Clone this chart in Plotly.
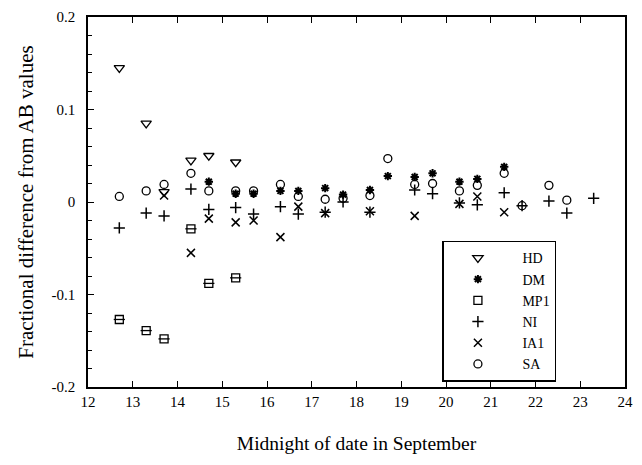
import plotly.graph_objects as go

# Data (day of September, fractional difference from AB values)
hd_days = [12.7, 13.3, 13.7, 14.3, 14.7, 15.3]
hd_vals = [0.145, 0.085, 0.011, 0.045, 0.050, 0.043]

dm_days = [14.7, 15.3, 15.7, 16.3, 16.7, 17.3, 17.7, 18.3, 18.7, 19.3, 19.7, 20.3, 20.7, 21.3]
dm_vals = [0.022, 0.009, 0.009, 0.012, 0.012, 0.015, 0.008, 0.013, 0.028, 0.027, 0.031, 0.022, 0.025, 0.038]

mp1_days = [12.7, 13.3, 13.7, 14.3, 14.7, 15.3]
mp1_vals = [-0.127, -0.139, -0.148, -0.029, -0.088, -0.082]

ni_days = [12.7, 13.3, 13.7, 14.3, 14.7, 15.3, 15.7, 16.3, 16.7, 17.3, 17.7, 18.3,
           19.3, 19.7, 20.3, 20.7, 21.3, 21.7, 22.3, 22.7, 23.3]
ni_vals = [-0.028, -0.012, -0.015, 0.014, -0.008, -0.006, -0.013, -0.005, -0.013, -0.011, 0.0, -0.011,
           0.013, 0.009, -0.001, -0.003, 0.010, -0.004, 0.001, -0.012, 0.004]

ia1_days = [13.7, 14.3, 14.7, 15.3, 15.7, 16.3, 16.7, 17.3, 18.3, 19.3, 20.3, 20.7, 21.3]
ia1_vals = [0.007, -0.055, -0.018, -0.022, -0.020, -0.038, -0.005, -0.012, -0.010, -0.015, -0.002, 0.006, -0.011]

sa_days = [12.7, 13.3, 13.7, 14.3, 14.7, 15.3, 15.7, 16.3, 16.7, 17.3, 17.7, 18.3, 18.7,
           19.3, 19.7, 20.3, 20.7, 21.3, 21.7, 22.3, 22.7]
sa_vals = [0.006, 0.012, 0.019, 0.031, 0.012, 0.012, 0.012, 0.019, 0.006, 0.003, 0.004, 0.007, 0.047,
           0.019, 0.020, 0.012, 0.018, 0.031, -0.004, 0.018, 0.002]

x_ticks = list(range(12, 25))
y_ticks = [-0.2, -0.1, 0, 0.1, 0.2]
y_tick_text = ["-0.2", "-0.1", "0", "0.1", "0.2"]

FONT = "Liberation Serif, Times New Roman, serif"
BLACK = "black"
PAD = "\u00a0" * 3  # gap between legend symbol and label

fig = go.Figure()

def add(name, xs, ys, symbol, size, lw=1.3, showlegend=True, group=None):
    fig.add_trace(go.Scatter(
        x=xs, y=ys, mode="markers", name=PAD + name,
        legendgroup=group or name, showlegend=showlegend,
        marker=dict(symbol=symbol, size=size, color=BLACK,
                    line=dict(color=BLACK, width=lw)),
    ))

add("HD", hd_days, hd_vals, "triangle-down-open", 9)
add("DM", dm_days, dm_vals, "asterisk-open", 7, lw=2)
add("MP1", mp1_days, mp1_vals, "square-open", 8)
add("MP1", mp1_days, mp1_vals, "line-ew-open", 8, showlegend=False, group="MP1")
add("NI", ni_days, ni_vals, "cross-thin-open", 8, lw=1.5)
add("IA1", ia1_days, ia1_vals, "x-thin-open", 8, lw=1.5)
add("SA", sa_days, sa_vals, "circle-open", 8)

fig.update_layout(
    width=642, height=465,
    margin=dict(l=88, r=9, t=17, b=78),
    paper_bgcolor="white", plot_bgcolor="white",
    font=dict(family=FONT, size=15, color=BLACK),
    showlegend=True,
    legend=dict(
        x=0.66, y=0.395, xanchor="left", yanchor="top",
        bordercolor=BLACK, borderwidth=1.5, bgcolor="white",
        font=dict(family=FONT, size=14, color=BLACK),
        itemwidth=58, tracegroupgap=0,
    ),
    xaxis=dict(
        range=[12, 24], tickmode="array", tickvals=x_ticks,
        ticks="inside", ticklen=6, tickwidth=1.2, tickcolor=BLACK,
        showline=True, linecolor=BLACK, linewidth=1.5, mirror="ticks",
        showgrid=False, zeroline=False,
        tickfont=dict(family=FONT, size=15),
        title=dict(text="Midnight of date in September", standoff=28,
                   font=dict(family=FONT, size=19.5)),
    ),
    yaxis=dict(
        range=[-0.2, 0.2], tickmode="array", tickvals=y_ticks, ticktext=y_tick_text,
        ticks="inside", ticklen=6, tickwidth=1.2, tickcolor=BLACK,
        minor=dict(dtick=0.02, ticks="inside", ticklen=4, tickcolor=BLACK, showgrid=False),
        showline=True, linecolor=BLACK, linewidth=1.5, mirror=True,
        showgrid=False, zeroline=False, ticklabelstandoff=8,
        tickfont=dict(family=FONT, size=15),
        title=dict(text="Fractional difference from AB values", standoff=12,
                   font=dict(family=FONT, size=21)),
    ),
)

fig.write_html("out.html")
